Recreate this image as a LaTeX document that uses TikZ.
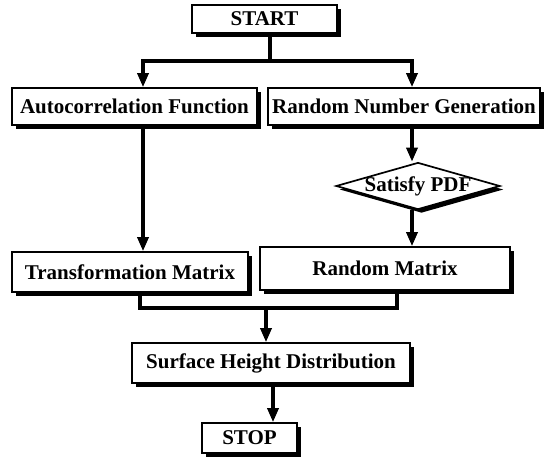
\documentclass[tikz,border=0pt]{standalone}
\usepackage{fontspec}
\setmainfont{Liberation Serif}
\usetikzlibrary{arrows.meta,shapes.geometric,shadows}
\begin{document}
\begin{tikzpicture}[x=1pt,y=-1pt,
  every node/.style={font=\fontsize{21}{24}\selectfont\bfseries},
  box/.style={draw, line width=1.7pt, fill=white, inner sep=0pt,
    drop shadow={shadow xshift=3.5pt, shadow yshift=-3.5pt, fill=black, opacity=1}},
  decide/.style={box, shape=diamond, aspect=3.5, text height=12pt, text depth=2pt},
  link/.style={line width=3.3pt, line join=miter},
  arw/.style={link, -{Triangle[length=14pt,width=11pt]}}]
\useasboundingbox (0,0) rectangle (544,458);

% boxes
\node[box, minimum width=145pt, minimum height=28pt] (start) at (264.5,19) {START};
\node[box, minimum width=245pt, minimum height=37pt] (acf) at (134.5,106.5) {Autocorrelation Function};
\node[box, minimum width=272pt, minimum height=37pt] (rng) at (404,106.5) {Random Number Generation};
\node[decide, minimum width=164pt, minimum height=47pt] (pdf) at (418,186) {Satisfy PDF};
\node[box, minimum width=236pt, minimum height=40pt] (tm) at (130,272) {Transformation Matrix};
\node[box, minimum width=250pt, minimum height=43pt] (rm) at (385,268.5) {Random Matrix};
\node[box, minimum width=278pt, minimum height=40pt] (shd) at (271,363) {Surface Height Distribution};
\node[box, minimum width=95pt, minimum height=30pt] (stop) at (249.5,438) {STOP};

% branch points
\coordinate (fanC) at (270,61);
\coordinate (fanL) at (143,61);
\coordinate (fanR) at (412,61);
\coordinate (mL) at (140,308);
\coordinate (mR) at (397,308);
\coordinate (mC) at (266,308);
\coordinate (lowC) at (273,0);

% split from START
\draw[link] (start.south -| fanC) -- (fanC);
\draw[arw] (fanC) -| (acf.north -| fanL);
\draw[arw] (fanC) -| (rng.north -| fanR);

% left column
\draw[arw] (acf.south -| fanL) -- (tm.north -| fanL);

% right column
\draw[arw] (rng.south -| fanR) -- (pdf.north -| fanR);
\draw[arw] (pdf.south -| fanR) -- (rm.north -| fanR);

% merge into surface height
\draw[link] (tm.south -| mL) -- (mL) -- (mR) -- (rm.south -| mR);
\draw[arw] (mC) -- (shd.north -| mC);
\draw[arw] (shd.south -| lowC) -- (stop.north -| lowC);
\end{tikzpicture}
\end{document}
